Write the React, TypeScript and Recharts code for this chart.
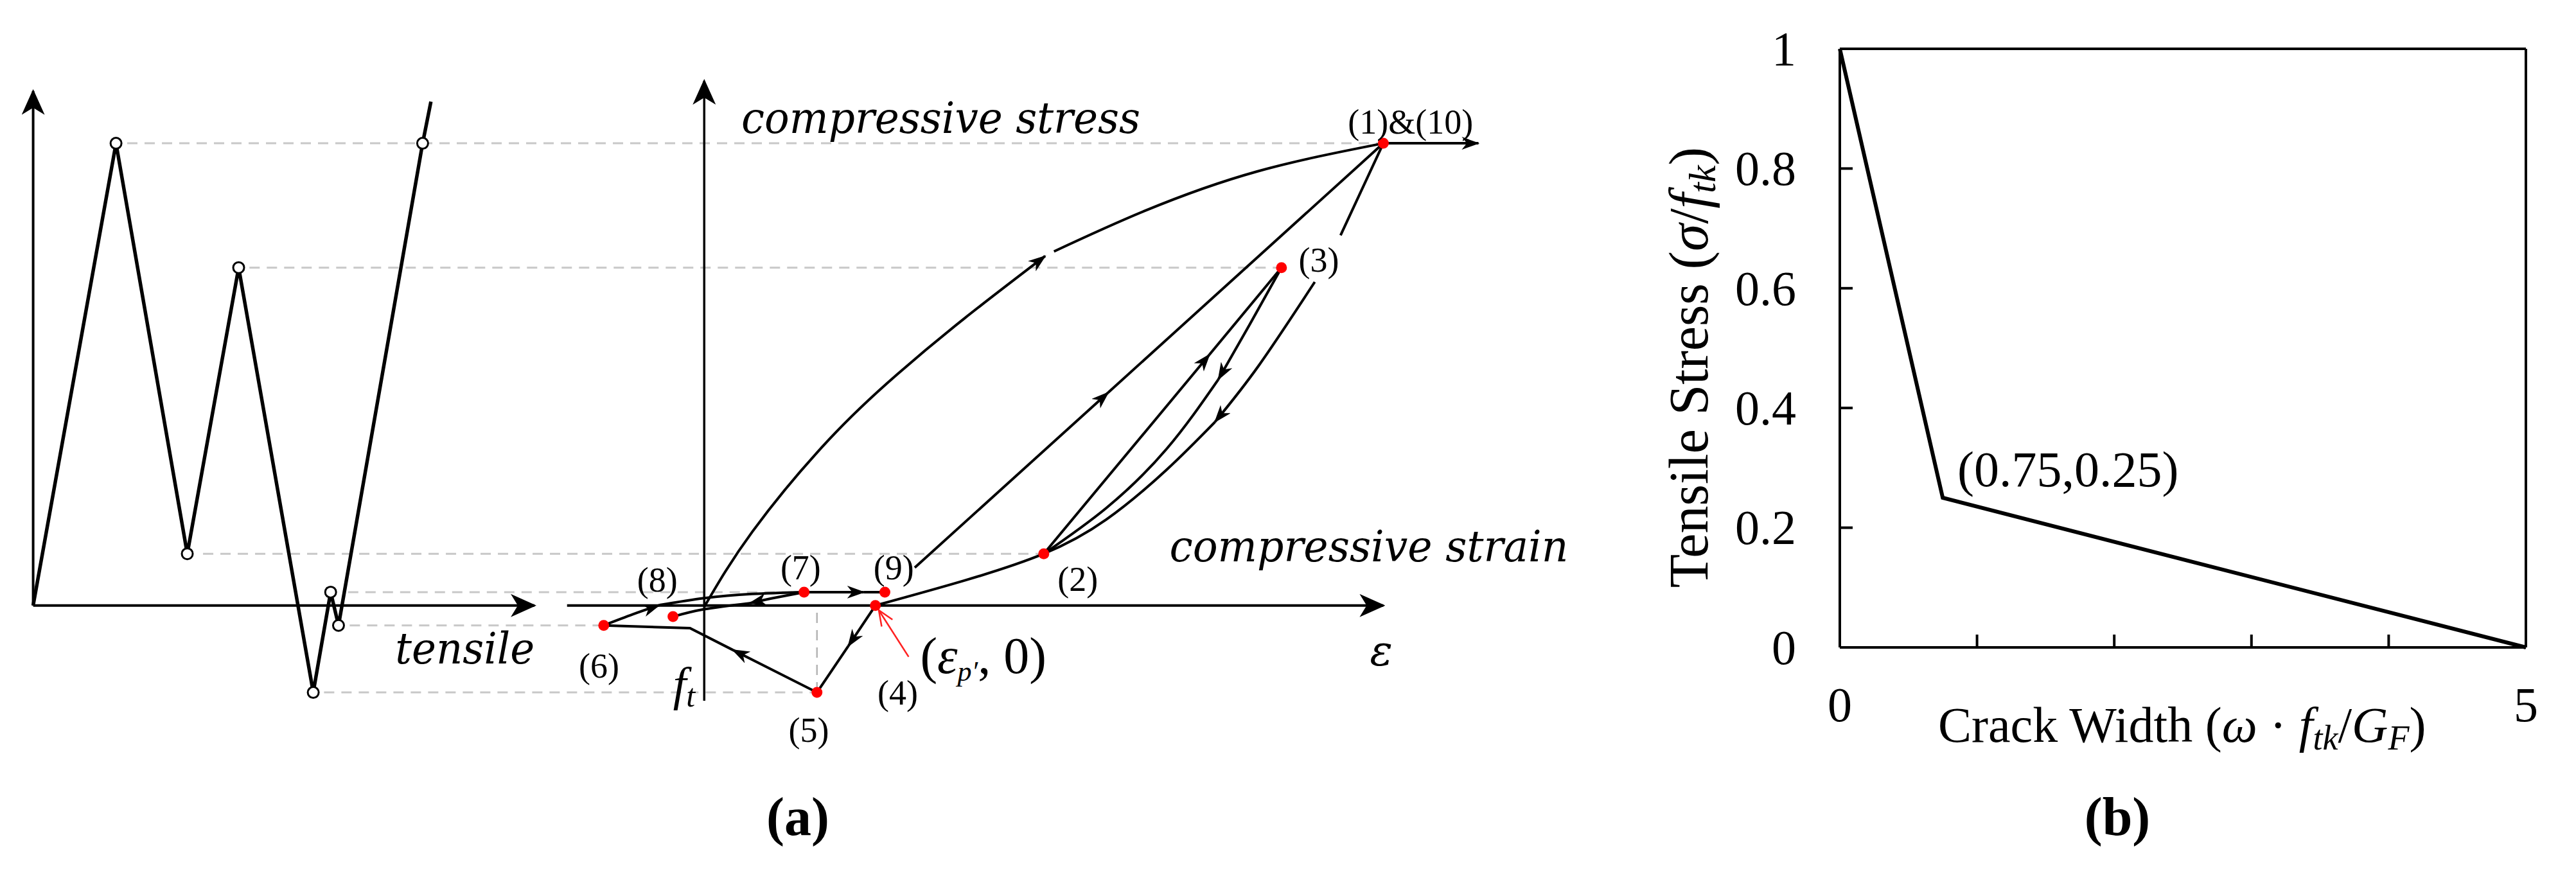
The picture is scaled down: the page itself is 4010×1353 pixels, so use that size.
import React from "react";
import { ComposedChart, LineChart, Line, Scatter, XAxis, YAxis, ReferenceLine } from "recharts";

const A_W = 2560;
const B_LEFT = 2460;
const B_W = 1550;
const H = 1353;

const SERIF = "Liberation Serif, serif";
const MATH = "DejaVu Serif, serif";

// panel (a): strain / stress normalised by the peak point (1); history plot uses its own step axis
const EPS_DOMAIN: [number, number] = [-1.037, 1.3846];
const T_DOMAIN: [number, number] = [-0.4, 19.445];
const SIG_DOMAIN: [number, number] = [-0.57, 1.31];

const tAsEps = (t: number) =>
  EPS_DOMAIN[0] + ((t - T_DOMAIN[0]) / (T_DOMAIN[1] - T_DOMAIN[0])) * (EPS_DOMAIN[1] - EPS_DOMAIN[0]);

// ---- loading history (left) ----
const historyPath = [
  { x: 0, y: 0 }, { x: 1.0, y: 1.0 }, { x: 1.86, y: 0.112 }, { x: 2.48, y: 0.731 },
  { x: 3.38, y: -0.188 }, { x: 3.59, y: 0.029 }, { x: 3.685, y: -0.043 }, { x: 4.7, y: 1.0 }, { x: 4.8, y: 1.09 },
];
const historyMarks = historyPath.slice(1, 8);
const historyXAxis = [{ x: 0, y: 0 }, { x: 6.05, y: 0 }];
const historyYAxis = [{ x: 0, y: 0 }, { x: 0, y: 1.113 }];

// ---- stress-strain (right) ----
const mainXAxis = [{ x: -0.202, y: 0 }, { x: 1.0, y: 0 }];
const mainYAxis = [{ x: 0, y: -0.206 }, { x: 0, y: 1.135 }];
const peakExit = [{ x: 1.0, y: 1.0 }, { x: 1.14, y: 1.0 }];

const keyPoints = [
  { x: 1.0, y: 1.0 }, { x: 0.5, y: 0.112 }, { x: 0.85, y: 0.731 }, { x: 0.252, y: 0 }, { x: 0.166, y: -0.188 },
  { x: -0.148, y: -0.043 }, { x: 0.147, y: 0.029 }, { x: -0.046, y: -0.024 }, { x: 0.266, y: 0.029 },
];

const pointLabels = [
  { x: 1.04, y: 1.021, text: "(1)&(10)" },
  { x: 0.55, y: 0.032, text: "(2)" },
  { x: 0.905, y: 0.722, text: "(3)" },
  { x: 0.285, y: -0.214, text: "(4)" },
  { x: 0.154, y: -0.295, text: "(5)" },
  { x: -0.155, y: -0.156, text: "(6)" },
  { x: 0.142, y: 0.057, text: "(7)" },
  { x: -0.069, y: 0.03, text: "(8)" },
  { x: 0.279, y: 0.057, text: "(9)" },
];

// [sigma, history step where the guide starts, strain where it ends]
const guides = [
  { y: 1.0, t: 1.135, e: 1.0 },
  { y: 0.731, t: 2.61, e: 0.85 },
  { y: 0.112, t: 2.05, e: 0.5 },
  { y: 0.029, t: 3.8, e: 0.147 },
  { y: -0.043, t: 3.82, e: -0.148 },
  { y: -0.188, t: 3.51, e: 0.166 },
];
const ftDrop = [{ x: 0.166, y: -0.188 }, { x: 0.166, y: 0 }];

// branches; "arrow" puts an arrowhead at the last point of that piece
const envelopeA = [
  { x: 0.0, y: -0.003 }, { x: 0.071, y: 0.16 }, { x: 0.183, y: 0.358 }, { x: 0.284, y: 0.5 },
  { x: 0.383, y: 0.621 }, { x: 0.502, y: 0.756 },
];
const envelopeB = [{ x: 0.515, y: 0.766 }, { x: 0.649, y: 0.854 }, { x: 0.814, y: 0.939 }, { x: 1.0, y: 1.0 }];
const reloadA = [{ x: 0.31, y: 0.082 }, { x: 0.595, y: 0.461 }];
const reloadB = [{ x: 0.595, y: 0.461 }, { x: 1.0, y: 1.0 }];
const unloadTop = [{ x: 1.0, y: 1.0 }, { x: 0.937, y: 0.801 }];
const unloadA = [{ x: 0.899, y: 0.7 }, { x: 0.816, y: 0.518 }, { x: 0.752, y: 0.397 }];
const unloadB = [
  { x: 0.752, y: 0.397 }, { x: 0.681, y: 0.294 }, { x: 0.592, y: 0.186 }, { x: 0.5, y: 0.112 },
  { x: 0.383, y: 0.054 }, { x: 0.252, y: 0 },
];
const partialReloadA = [{ x: 0.5, y: 0.112 }, { x: 0.744, y: 0.543 }];
const partialReloadB = [{ x: 0.744, y: 0.543 }, { x: 0.85, y: 0.731 }];
const partialUnloadA = [{ x: 0.85, y: 0.731 }, { x: 0.804, y: 0.61 }, { x: 0.757, y: 0.489 }];
const partialUnloadB = [{ x: 0.757, y: 0.489 }, { x: 0.681, y: 0.339 }, { x: 0.592, y: 0.211 }, { x: 0.5, y: 0.112 }];
const tensionA = [{ x: 0.252, y: 0 }, { x: 0.212, y: -0.088 }];
const tensionB = [{ x: 0.212, y: -0.088 }, { x: 0.166, y: -0.188 }];
const softeningA = [{ x: 0.166, y: -0.188 }, { x: 0.042, y: -0.096 }];
const softeningB = [{ x: 0.042, y: -0.096 }, { x: -0.021, y: -0.049 }, { x: -0.148, y: -0.043 }];
const closingA = [{ x: -0.148, y: -0.043 }, { x: -0.105, y: -0.019 }, { x: -0.066, y: 0.001 }];
const closingB = [{ x: -0.066, y: 0.001 }, { x: 0.0, y: 0.016 }, { x: 0.07, y: 0.025 }, { x: 0.147, y: 0.029 }];
const reopenA = [{ x: 0.147, y: 0.029 }, { x: 0.105, y: 0.017 }, { x: 0.067, y: 0.005 }];
const reopenB = [{ x: 0.067, y: 0.005 }, { x: 0.0, y: -0.008 }, { x: -0.046, y: -0.024 }];
const toNineA = [{ x: 0.147, y: 0.029 }, { x: 0.235, y: 0.029 }];
const toNineB = [{ x: 0.235, y: 0.029 }, { x: 0.266, y: 0.029 }];
const pointer = [{ x: 0.301, y: -0.111 }, { x: 0.257, y: -0.01 }];

const branches = [
  { data: envelopeA, type: "natural", arrow: true },
  { data: envelopeB, type: "natural", arrow: false },
  { data: reloadA, type: "linear", arrow: true },
  { data: reloadB, type: "linear", arrow: false },
  { data: unloadTop, type: "linear", arrow: false },
  { data: unloadA, type: "natural", arrow: true },
  { data: unloadB, type: "natural", arrow: false },
  { data: partialReloadA, type: "linear", arrow: true },
  { data: partialReloadB, type: "linear", arrow: false },
  { data: partialUnloadA, type: "natural", arrow: true },
  { data: partialUnloadB, type: "natural", arrow: false },
  { data: tensionA, type: "linear", arrow: true },
  { data: tensionB, type: "linear", arrow: false },
  { data: softeningA, type: "linear", arrow: true },
  { data: softeningB, type: "linear", arrow: false },
  { data: closingA, type: "natural", arrow: true },
  { data: closingB, type: "natural", arrow: false },
  { data: reopenA, type: "natural", arrow: true },
  { data: reopenB, type: "natural", arrow: false },
  { data: toNineA, type: "linear", arrow: true },
  { data: toNineB, type: "linear", arrow: false },
  { data: peakExit, type: "linear", arrow: true },
];

const mathLabels = [
  { x: 0.0546, y: 1.022, id: "stress" },
  { x: 0.685, y: 0.0956, id: "strain" },
  { x: -0.455, y: -0.125, id: "tensile" },
  { x: 0.997, y: -0.13, id: "eps" },
  { x: -0.046, y: -0.205, id: "ft" },
  { x: 0.318, y: -0.146, id: "epsP" },
];

// ---- panel (b): tension softening ----
const softeningCurve = [{ x: 0, y: 1 }, { x: 0.75, y: 0.25 }, { x: 5, y: 0 }];
const bXTicks = [0, 1, 2, 3, 4, 5];
const bYTicks = [0, 0.2, 0.4, 0.6, 0.8, 1];
const bKinkLabel = [{ x: 0.857, y: 0.269, text: "(0.75,0.25)" }];

function mathText(id: string, cx: number, cy: number) {
  switch (id) {
    case "stress":
      return <text x={cx} y={cy} fontFamily={MATH} fontStyle="italic" fontSize={68} textLength={621} lengthAdjust="spacingAndGlyphs">compressive stress</text>;
    case "strain":
      return <text x={cx} y={cy} fontFamily={MATH} fontStyle="italic" fontSize={68} textLength={621} lengthAdjust="spacingAndGlyphs">compressive strain</text>;
    case "tensile":
      return <text x={cx} y={cy} fontFamily={MATH} fontStyle="italic" fontSize={68} textLength={217} lengthAdjust="spacingAndGlyphs">tensile</text>;
    case "eps":
      return <text x={cx} y={cy} fontFamily={MATH} fontStyle="italic" fontSize={66} textAnchor="middle">ε</text>;
    case "ft":
      return (
        <text x={cx} y={cy} fontFamily={SERIF} fontStyle="italic" fontSize={74}>
          f<tspan fontSize={50} dy={10}>t</tspan>
        </text>
      );
    case "epsP":
      return (
        <text x={cx} y={cy} fontFamily={SERIF} fontSize={80}>
          (<tspan fontStyle="italic">ε</tspan>
          <tspan fontStyle="italic" fontSize={44} dy={12}>p′</tspan>
          <tspan dy={-12}>, 0)</tspan>
        </text>
      );
    default:
      return <g />;
  }
}

// text marks drawn as the "dots" of an invisible line, so they sit on the chart scales
const labelDot = (size: number) => (p: any) => (
  <text key={`l${p.index}`} x={p.cx} y={p.cy} textAnchor="middle" fontFamily={SERIF} fontSize={size} fill="#000">
    {p.payload.text}
  </text>
);
const mathDot = (p: any) => <g key={`m${p.index}`}>{mathText(p.payload.id, p.cx, p.cy)}</g>;

function YTick({ x, y, payload }: any) {
  const v = payload.value;
  return (
    <g>
      <line x1={x} x2={x + 20} y1={y} y2={y} stroke="#000" strokeWidth={4} />
      <text x={x - 68} y={y} dy="0.34em" textAnchor="end" fontFamily={SERIF} fontSize={76} fill="#000">
        {v === 0 || v === 1 ? String(v) : v.toFixed(1)}
      </text>
    </g>
  );
}

function XTick({ x, y, payload }: any) {
  const v = payload.value;
  return (
    <g>
      {v > 0 && v < 5 && <line x1={x} x2={x} y1={y} y2={y - 20} stroke="#000" strokeWidth={4} />}
      {(v === 0 || v === 5) && (
        <text x={x} y={y + 115} textAnchor="middle" fontFamily={SERIF} fontSize={76} fill="#000">{v}</text>
      )}
    </g>
  );
}

function XTitle({ viewBox }: any) {
  return (
    <text x={viewBox.x + 153} y={viewBox.y + 147} fontFamily={SERIF} fontSize={78} fill="#000">
      Crack Width (<tspan fontStyle="italic">ω</tspan> · <tspan fontStyle="italic">f</tspan>
      <tspan fontStyle="italic" fontSize={54} dy={12}>tk</tspan>
      <tspan dy={-12}>/</tspan><tspan fontStyle="italic">G</tspan>
      <tspan fontStyle="italic" fontSize={54} dy={12}>F</tspan>
      <tspan dy={-12}>)</tspan>
    </text>
  );
}

function YTitle({ viewBox }: any) {
  const cx = viewBox.x + viewBox.width - 236;
  const cy = viewBox.y + viewBox.height / 2 + 30;
  return (
    <text x={cx} y={cy} dy="0.35em" transform={`rotate(-90 ${cx} ${cy})`} textAnchor="middle" fontFamily={SERIF} fontSize={86} fill="#000">
      Tensile Stress (<tspan fontStyle="italic">σ</tspan>/<tspan fontStyle="italic">f</tspan>
      <tspan fontStyle="italic" fontSize={60} dy={12}>tk</tspan>
      <tspan dy={-12}>)</tspan>
    </text>
  );
}

export default function App() {
  return (
    <div style={{ position: "absolute", left: 0, top: 0, width: 4010, height: H, background: "#fff" }}>
      <svg width={0} height={0} style={{ position: "absolute" }}>
        <defs>
          <marker id="arrowAxis" markerUnits="userSpaceOnUse" viewBox="0 0 40 36" markerWidth={40} markerHeight={36} refX={37} refY={18} orient="auto">
            <path d="M0,0 L40,18 L0,36 L11,18 Z" fill="#000" />
          </marker>
          <marker id="arrowMid" markerUnits="userSpaceOnUse" viewBox="0 0 28 20" markerWidth={28} markerHeight={20} refX={26} refY={10} orient="auto">
            <path d="M0,0 L28,10 L0,20 L8,10 Z" fill="#000" />
          </marker>
          <marker id="arrowRed" markerUnits="userSpaceOnUse" viewBox="0 0 26 22" markerWidth={26} markerHeight={22} refX={25} refY={11} orient="auto">
            <path d="M1,1 L25,11 L1,21" fill="none" stroke="#ff2020" strokeWidth={2.5} />
          </marker>
        </defs>
      </svg>

      {/* (a) loading history + stress-strain loops */}
      <div style={{ position: "absolute", left: 0, top: 0 }}>
        <ComposedChart width={A_W} height={H} margin={{ top: 0, right: 0, bottom: 0, left: 0 }}>
          <XAxis xAxisId="t" type="number" dataKey="x" domain={T_DOMAIN} allowDataOverflow hide />
          <XAxis xAxisId="e" type="number" dataKey="x" domain={EPS_DOMAIN} allowDataOverflow hide />
          <YAxis type="number" dataKey="y" domain={SIG_DOMAIN} allowDataOverflow hide />

          {guides.map((g, i) => (
            <Line key={`g${i}`} xAxisId="e" data={[{ x: tAsEps(g.t), y: g.y }, { x: g.e, y: g.y }]} dataKey="y"
              type="linear" stroke="#c8c8c8" strokeWidth={3} strokeDasharray="16 11" dot={false} isAnimationActive={false} />
          ))}
          <Line xAxisId="e" data={ftDrop} dataKey="y" type="linear" stroke="#b4b4b4" strokeWidth={2.5}
            strokeDasharray="16 11" dot={false} isAnimationActive={false} />

          <Line xAxisId="t" data={historyXAxis} dataKey="y" type="linear" stroke="#000" strokeWidth={4}
            dot={false} markerEnd="url(#arrowAxis)" isAnimationActive={false} />
          <Line xAxisId="t" data={historyYAxis} dataKey="y" type="linear" stroke="#000" strokeWidth={4}
            dot={false} markerEnd="url(#arrowAxis)" isAnimationActive={false} />
          <Line xAxisId="t" data={historyPath} dataKey="y" type="linear" stroke="#000" strokeWidth={5.5}
            strokeLinejoin="miter" dot={false} isAnimationActive={false} />
          <Scatter xAxisId="t" data={historyMarks} isAnimationActive={false}
            shape={(p: any) => <circle cx={p.cx} cy={p.cy} r={8.5} fill="#fff" stroke="#000" strokeWidth={3} />} />

          <Line xAxisId="e" data={mainXAxis} dataKey="y" type="linear" stroke="#000" strokeWidth={4}
            dot={false} markerEnd="url(#arrowAxis)" isAnimationActive={false} />
          <Line xAxisId="e" data={mainYAxis} dataKey="y" type="linear" stroke="#000" strokeWidth={3.5}
            dot={false} markerEnd="url(#arrowAxis)" isAnimationActive={false} />

          {branches.map((b, i) => (
            <Line key={`b${i}`} xAxisId="e" data={b.data} dataKey="y" type={b.type as any} stroke="#000" strokeWidth={4}
              dot={false} markerEnd={b.arrow ? "url(#arrowMid)" : undefined} isAnimationActive={false} />
          ))}
          <Line xAxisId="e" data={pointer} dataKey="y" type="linear" stroke="#ff2020" strokeWidth={2.5}
            dot={false} markerEnd="url(#arrowRed)" isAnimationActive={false} />

          <Scatter xAxisId="e" data={keyPoints} isAnimationActive={false}
            shape={(p: any) => <circle cx={p.cx} cy={p.cy} r={8.5} fill="#ff0000" />} />
          <Line xAxisId="e" data={pointLabels} dataKey="y" stroke="none" dot={labelDot(54)} activeDot={false}
            isAnimationActive={false} />
          <Line xAxisId="e" data={mathLabels} dataKey="y" stroke="none" dot={mathDot} activeDot={false}
            isAnimationActive={false} />
        </ComposedChart>
      </div>

      {/* (b) tension softening curve */}
      <div style={{ position: "absolute", left: B_LEFT, top: 0 }}>
        <LineChart width={B_W} height={H} margin={{ top: 76, right: 78, bottom: 245, left: 204 }}>
          <XAxis type="number" dataKey="x" domain={[0, 5]} ticks={bXTicks} interval={0} height={100}
            axisLine={{ stroke: "#000", strokeWidth: 4 }} tickLine={false} tickSize={0} tickMargin={0}
            tick={<XTick />} label={<XTitle />} />
          <YAxis type="number" dataKey="y" domain={[0, 1]} ticks={bYTicks} interval={0} width={200}
            axisLine={{ stroke: "#000", strokeWidth: 4 }} tickLine={false} tickSize={0} tickMargin={0}
            tick={<YTick />} label={<YTitle />} />
          <ReferenceLine y={1} stroke="#000" strokeWidth={4} />
          <ReferenceLine x={5} stroke="#000" strokeWidth={4} />
          <Line data={softeningCurve} dataKey="y" type="linear" stroke="#000" strokeWidth={6} dot={false}
            isAnimationActive={false} />
          <Line data={bKinkLabel} dataKey="y" stroke="none" activeDot={false} isAnimationActive={false}
            dot={(p: any) => (
              <text key="kink" x={p.cx} y={p.cy} fontFamily={SERIF} fontSize={78} fill="#000">{p.payload.text}</text>
            )} />
        </LineChart>
      </div>

      <div style={{ position: "absolute", left: 1242, top: 1297, transform: "translate(-50%, -80%)", fontFamily: SERIF, fontWeight: 700, fontSize: 84, lineHeight: 1 }}>
        (a)
      </div>
      <div style={{ position: "absolute", left: 3296, top: 1297, transform: "translate(-50%, -80%)", fontFamily: SERIF, fontWeight: 700, fontSize: 84, lineHeight: 1 }}>
        (b)
      </div>
    </div>
  );
}
